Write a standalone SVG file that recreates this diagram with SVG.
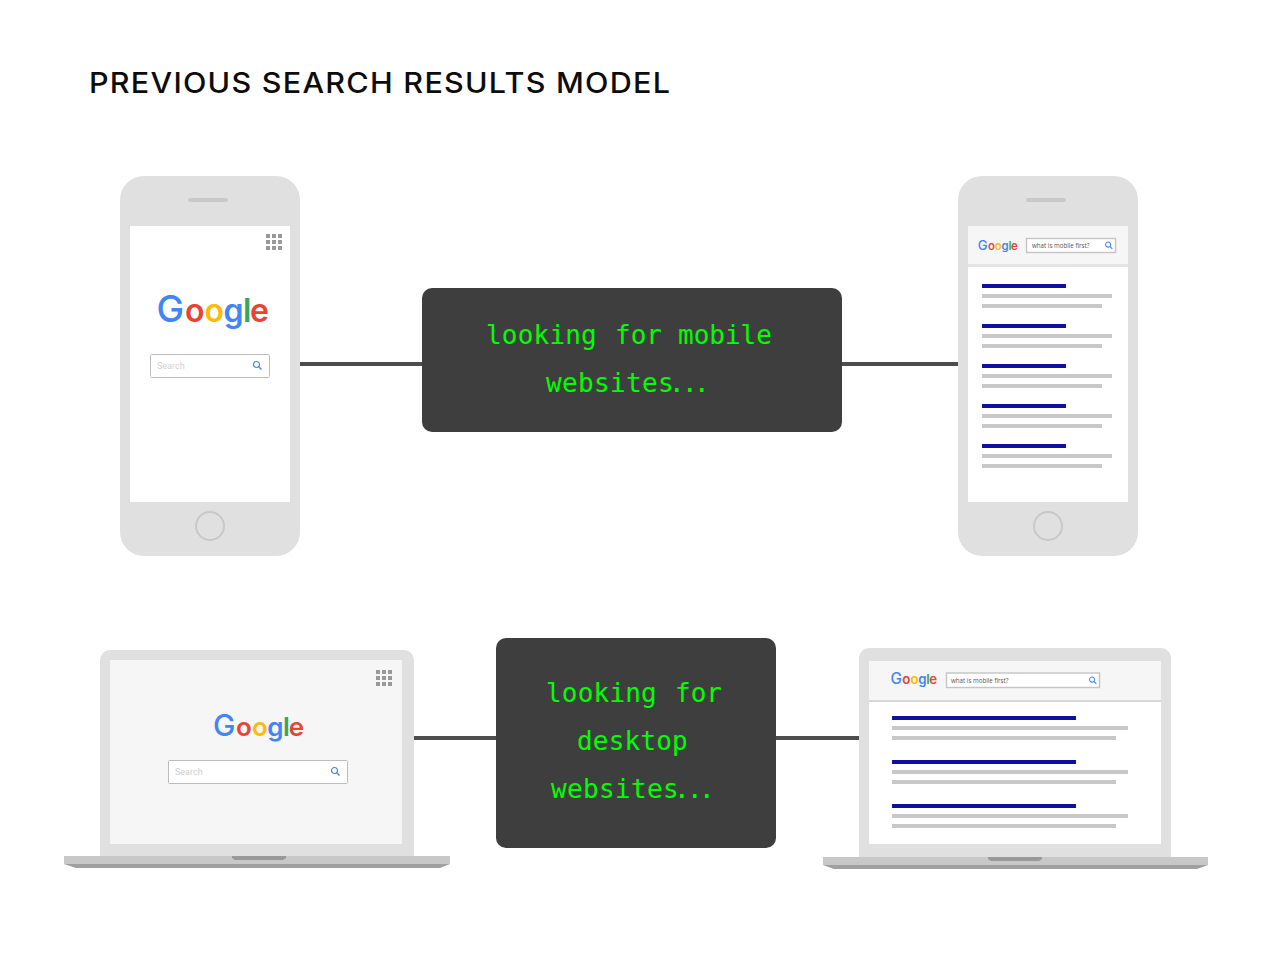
<svg xmlns="http://www.w3.org/2000/svg" width="1280" height="980" viewBox="0 0 1280 980">
<style>
.body{fill:#e0e0e0}
.bar{fill:#c8c8c8}
.link{fill:#1010a0}
.box{fill:#3e3e3e}
.mono{font-family:"DejaVu Sans Mono",monospace;font-size:26px;fill:#00ff00}
.conn{stroke:#4d4d4d;stroke-width:4;fill:none}
.logo{font-family:Inter,"Open Sans",sans-serif;font-weight:600;font-size:32px}
.cap{font-size:37px;font-weight:500}
.b{fill:#4285f4}.r{fill:#ea4335}.y{fill:#fbbc05}.g{fill:#34a853}
.field{fill:#fff;stroke:#bdbdbd}
.small{fill:#fff;stroke:#c4c4c4;stroke-width:1.4}
.ph{font-family:Roboto,sans-serif;fill:#cfcfcf;font-size:9px}
.q{font-family:"Open Sans",sans-serif;fill:#555;font-size:6.2px}
.mag{fill:none;stroke:#4285f4}
.dot{fill:#999}
</style>
<defs>
<g id="bars"><rect class="link" x="0" y="0" width="84" height="4"/><rect class="bar" x="0" y="10" width="130" height="4"/><rect class="bar" x="0" y="20" width="120" height="4"/></g>
<g id="lbars"><rect class="link" x="0" y="0" width="184" height="4"/><rect class="bar" x="0" y="10" width="236" height="4"/><rect class="bar" x="0" y="20" width="224" height="4"/></g>
<g id="grid"><rect class="dot" x="0" y="0" width="4" height="4"/><rect class="dot" x="6" y="0" width="4" height="4"/><rect class="dot" x="12" y="0" width="4" height="4"/><rect class="dot" x="0" y="6" width="4" height="4"/><rect class="dot" x="6" y="6" width="4" height="4"/><rect class="dot" x="12" y="6" width="4" height="4"/><rect class="dot" x="0" y="12" width="4" height="4"/><rect class="dot" x="6" y="12" width="4" height="4"/><rect class="dot" x="12" y="12" width="4" height="4"/></g>
<g id="mag"><circle class="mag" cx="-.5" cy="-.5" r="3" stroke-width="1.2"/><path class="mag" d="M1.7 1.7L4.5 4.5" stroke-width="1.4"/></g>
</defs>
<rect width="1280" height="980" fill="#fff"/>
<text transform="translate(89 93) scale(1.09 1)" font-family="Inter,Lato,sans-serif" font-size="28" font-weight="500" fill="#0c0c0c" textLength="533" lengthAdjust="spacing">PREVIOUS SEARCH RESULTS MODEL</text>
<g id="connectors">
<path class="conn" d="M300 364H422"/>
<path class="conn" d="M842 364H958"/>
<path class="conn" d="M414 738H496"/>
<path class="conn" d="M776 738H859"/>
</g>
<g id="phone-home">
<rect class="body" x="120" y="176" width="180" height="380" rx="24"/>
<rect class="bar" x="188" y="198" width="40" height="4" rx="2"/>
<rect x="130" y="226" width="160" height="276" fill="#fff"/>
<circle cx="210" cy="526" r="14" fill="none" stroke="#c8c8c8" stroke-width="2"/>
<use href="#grid" x="266" y="234"/>
<text class="logo" transform="translate(156.500 322)" x="0 28.500 48 67 86.500 93.500" y="0"><tspan class="b cap">G</tspan><tspan class="r">o</tspan><tspan class="y">o</tspan><tspan class="b">g</tspan><tspan class="g">l</tspan><tspan class="r">e</tspan></text>
<rect class="field" x="150.500" y="354.500" width="119" height="23" rx="1"/>
<text class="ph" x="157" y="369">Search</text>
<use href="#mag" x="257" y="365"/>
</g>
<g id="phone-results">
<rect class="body" x="958" y="176" width="180" height="380" rx="24"/>
<rect class="bar" x="1026" y="198" width="40" height="4" rx="2"/>
<rect x="968" y="226" width="160" height="276" fill="#fff"/>
<rect x="968" y="226" width="160" height="38" fill="#f6f6f6"/>
<rect x="968" y="264" width="160" height="3" fill="#e4e4e4"/>
<circle cx="1048" cy="526" r="14" fill="none" stroke="#c8c8c8" stroke-width="2"/>
<text class="logo" transform="translate(977.800 250) scale(.355)" x="0 28.500 48 67 86.500 93.500" y="0"><tspan class="b cap">G</tspan><tspan class="r">o</tspan><tspan class="y">o</tspan><tspan class="b">g</tspan><tspan class="g">l</tspan><tspan class="r">e</tspan></text>
<rect class="small" x="1026.500" y="238.500" width="89" height="14"/>
<text class="q" x="1032" y="248">what is mobile first?</text>
<use href="#mag" transform="translate(1108.500 245) scale(.85)"/>
<use href="#bars" x="982" y="284"/>
<use href="#bars" x="982" y="324"/>
<use href="#bars" x="982" y="364"/>
<use href="#bars" x="982" y="404"/>
<use href="#bars" x="982" y="444"/>
</g>
<g id="box-mobile">
<rect class="box" x="422" y="288" width="420" height="144" rx="10"/>
<text class="mono" y="344"><tspan x="486" letter-spacing=".2">looking</tspan> <tspan x="615">for</tspan> <tspan x="678">mobile</tspan></text>
<text class="mono" y="392" x="546 562 578 594 610 626 642 658 669 682 694">websites...</text>
</g>
<g id="box-desktop">
<rect class="box" x="496" y="638" width="280" height="210" rx="10"/>
<text class="mono" y="702"><tspan x="546" letter-spacing=".2">looking</tspan> <tspan x="675">for</tspan></text>
<text class="mono" x="577" y="750" letter-spacing=".2">desktop</text>
<text class="mono" y="798" x="551 567 583 599 615 631 647 663 674 687 699">websites...</text>
</g>
<g id="laptop-home">
<path class="body" d="M100 856V660a10 10 0 0 1 10-10H404a10 10 0 0 1 10 10V856Z"/>
<rect x="110" y="660" width="292" height="184" fill="#f6f6f6"/>
<path class="bar" d="M64 856H450V864H64Z"/>
<path d="M64 864H450L440 868H76Z" fill="#a0a0a0"/>
<path d="M232 856H286V858L283 860H235L232 858Z" fill="#999"/>
<use href="#grid" x="376" y="670"/>
<text class="logo" transform="translate(213 736) scale(.81)" x="0 28.500 48 67 86.500 93.500" y="0"><tspan class="b cap">G</tspan><tspan class="r">o</tspan><tspan class="y">o</tspan><tspan class="b">g</tspan><tspan class="g">l</tspan><tspan class="r">e</tspan></text>
<rect class="field" x="168.500" y="760.500" width="179" height="23" rx="1"/>
<text class="ph" x="175" y="775">Search</text>
<use href="#mag" x="335" y="771"/>
</g>
<g id="laptop-results">
<path class="body" d="M859 857V658a10 10 0 0 1 10-10H1161a10 10 0 0 1 10 10V857Z"/>
<rect x="869" y="661" width="292" height="183" fill="#fff"/>
<rect x="869" y="661" width="292" height="40" fill="#f6f6f6"/>
<rect x="869" y="700" width="292" height="2" fill="#d8d8d8"/>
<path class="bar" d="M823 857H1208V865H823Z"/>
<path d="M823 865H1208L1197 869H834Z" fill="#a0a0a0"/>
<path d="M988 857H1042V859L1039 861H991L988 859Z" fill="#999"/>
<text class="logo" transform="translate(890.600 684) scale(.413)" x="0 28.500 48 67 86.500 93.500" y="0"><tspan class="b cap">G</tspan><tspan class="r">o</tspan><tspan class="y">o</tspan><tspan class="b">g</tspan><tspan class="g">l</tspan><tspan class="r">e</tspan></text>
<rect class="small" x="946.500" y="673" width="153" height="14.500"/>
<text class="q" x="951" y="682.500">what is mobile first?</text>
<use href="#mag" transform="translate(1092.500 680) scale(.85)"/>
<use href="#lbars" x="892" y="716"/>
<use href="#lbars" x="892" y="760"/>
<use href="#lbars" x="892" y="804"/>
</g>
</svg>
